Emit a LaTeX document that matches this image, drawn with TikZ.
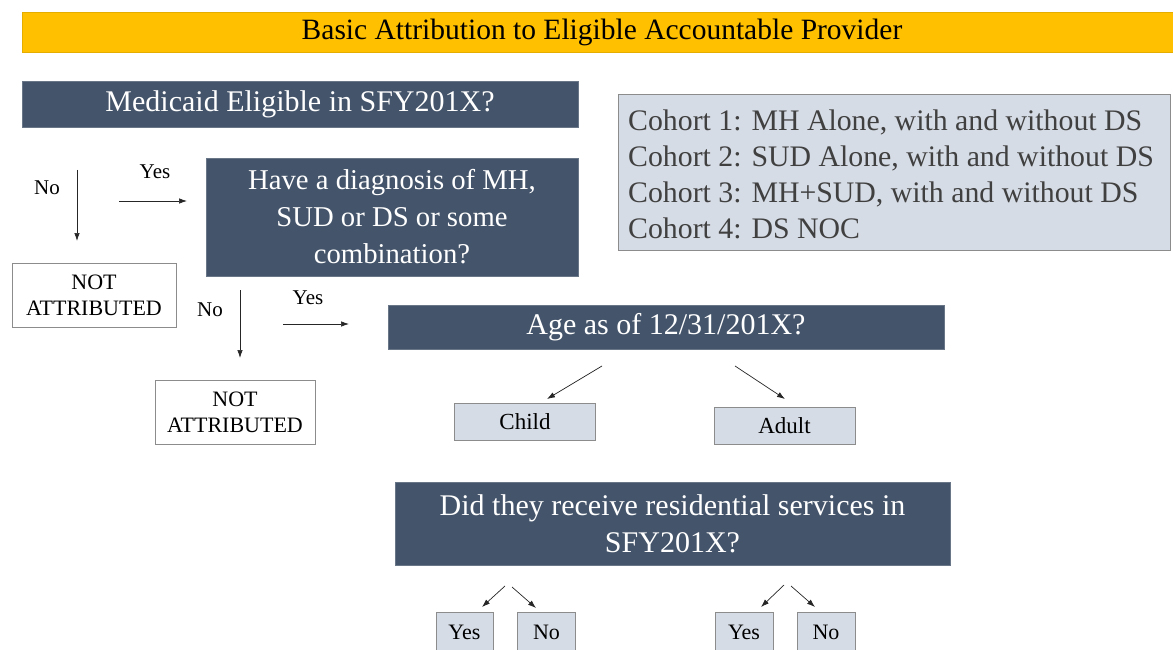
\documentclass[tikz,border=0pt]{standalone}
\usepackage{fontspec}
\setmainfont{Liberation Serif}
\usetikzlibrary{arrows.meta}
\definecolor{banner}{HTML}{FFC000}
\definecolor{slate}{HTML}{44546A}
\definecolor{pale}{HTML}{D6DCE5}
\definecolor{edge}{HTML}{8C8C8C}
\definecolor{cohorttext}{HTML}{404040}
\begin{document}
\begin{tikzpicture}[x=1pt,y=-1pt,
  darkbox/.style={fill=slate,draw=slate!80!white,text=white,inner sep=0pt,align=center},
  whitebox/.style={fill=white,draw=edge,line width=1pt,inner sep=0pt,align=center,font=\fontsize{22}{26}\selectfont},
  palebox/.style={fill=pale,draw=edge,line width=1pt,inner sep=0pt,align=center,font=\fontsize{22}{26}\selectfont},
  lbl/.style={inner sep=0pt,font=\fontsize{21}{26}\selectfont},
  arr/.style={-{Latex[length=8pt,width=5.5pt]},line width=0.7pt,draw=black!85}
]
\useasboundingbox (0,0) rectangle (1173,650);
\fill[white] (0,0) rectangle (1173,650);
% banner
\node[fill=banner,draw=banner!90!black,minimum width=1151,minimum height=40,inner sep=0pt,anchor=north west] (title) at (22,12) {};
\node[inner sep=0pt,font=\fontsize{29.5}{32}\selectfont] (titletext) at (602,32) {Basic Attribution to Eligible Accountable Provider};
% medicaid
\node[darkbox,minimum width=556,minimum height=46,font=\fontsize{30}{34}\selectfont] (med) at (300,104) {Medicaid Eligible in SFY201X?};
% cohort
\node[fill=pale,draw=edge,line width=1pt,minimum width=552,minimum height=155,inner sep=0pt] (cohort) at (894,172.5) {};
\node[anchor=west,inner sep=0pt,align=left,text=cohorttext,font=\fontsize{29.8}{36}\selectfont] (cohorttxt) at (628,174) {Cohort 1: MH Alone, with and without DS\\Cohort 2: SUD Alone, with and without DS\\Cohort 3: MH+SUD, with and without DS\\Cohort 4: DS NOC};
% diagnosis
\node[darkbox,minimum width=372,minimum height=118,font=\fontsize{28.7}{37}\selectfont] (diag) at (392,217) {Have a diagnosis of MH,\\SUD or DS or some\\combination?};
% first no/yes
\node[lbl] (no1) at (47,188) {No};
\coordinate (no1s) at (77,170);
\coordinate (no1e) at (77,241);
\draw[arr] (no1s) -- (no1e);
\node[lbl] (yes1) at (155,172) {Yes};
\coordinate (yes1s) at (119,201);
\coordinate (yes1e) at (187,201);
\draw[arr] (yes1s) -- (yes1e);
\node[whitebox,minimum width=164,minimum height=64] (na1) at (94,295) {NOT\\ATTRIBUTED};
% second no/yes
\node[lbl] (no2) at (210,310) {No};
\coordinate (no2s) at (240,290);
\coordinate (no2e) at (240,358);
\draw[arr] (no2s) -- (no2e);
\node[lbl] (yes2) at (308,298) {Yes};
\coordinate (yes2s) at (283,324);
\coordinate (yes2e) at (349,324);
\draw[arr] (yes2s) -- (yes2e);
\node[whitebox,minimum width=160,minimum height=64] (na2) at (235,412) {NOT\\ATTRIBUTED};
% age
\node[darkbox,minimum width=556,minimum height=44,font=\fontsize{30}{34}\selectfont] (age) at (666,327) {Age as of 12/31/201X?};
\coordinate (cs) at (602,366);
\coordinate (ce) at (547,399);
\draw[arr] (cs) -- (ce);
\coordinate (as) at (735,366);
\coordinate (ae) at (785,399);
\draw[arr] (as) -- (ae);
\node[palebox,minimum width=141,minimum height=37,font=\fontsize{23}{26}\selectfont] (child) at (525,421.5) {Child};
\node[palebox,minimum width=141,minimum height=37,font=\fontsize{23}{26}\selectfont] (adult) at (784.5,425.5) {Adult};
% residential
\node[darkbox,minimum width=555,minimum height=83,font=\fontsize{30}{37}\selectfont] (res) at (672.5,524) {Did they receive residential services in\\SFY201X?};
% bottom arrows
\coordinate (b1s) at (505,586);
\coordinate (b1e) at (482,607);
\draw[arr] (b1s) -- (b1e);
\coordinate (b2s) at (512,587);
\coordinate (b2e) at (536,608);
\draw[arr] (b2s) -- (b2e);
\coordinate (b3s) at (784,585);
\coordinate (b3e) at (761,607);
\draw[arr] (b3s) -- (b3e);
\coordinate (b4s) at (791,586);
\coordinate (b4e) at (815,607);
\draw[arr] (b4s) -- (b4e);
\node[palebox,minimum width=57,minimum height=40,anchor=north] (y1) at (464.5,612) {Yes};
\node[palebox,minimum width=58,minimum height=40,anchor=north] (n1) at (546.5,612) {No};
\node[palebox,minimum width=58,minimum height=40,anchor=north] (y2) at (744,612) {Yes};
\node[palebox,minimum width=58,minimum height=40,anchor=north] (n2) at (826,612) {No};
\end{tikzpicture}
\end{document}
